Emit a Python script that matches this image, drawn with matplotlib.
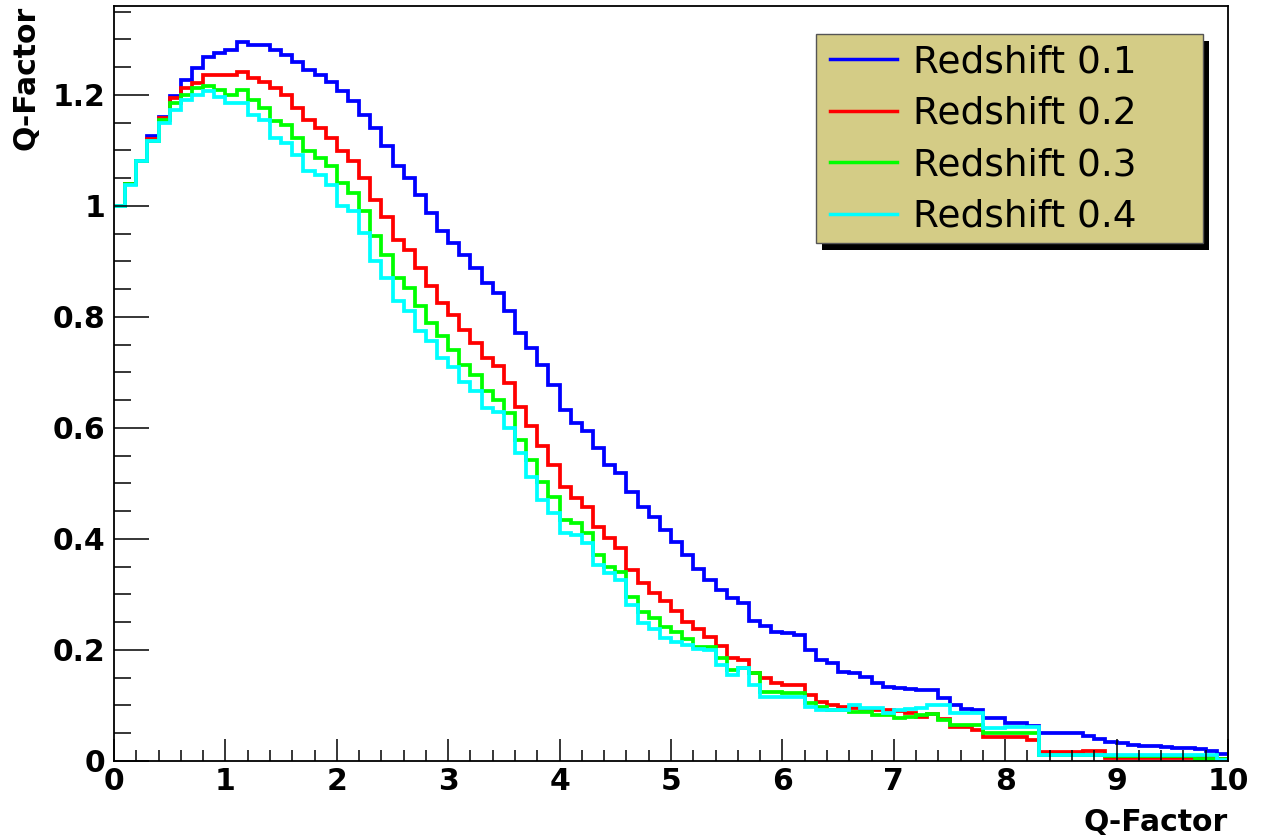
import numpy as np
import matplotlib
matplotlib.use("Agg")
import matplotlib.pyplot as plt
from matplotlib.patches import Rectangle
from matplotlib.ticker import MultipleLocator, FuncFormatter

# ---- data: 100 bins from 0 to 10 ----
labels = ['Redshift 0.1', 'Redshift 0.2', 'Redshift 0.3', 'Redshift 0.4']
colors = ['#0000ff', '#ff0000', '#00ff00', '#00ffff']
bin_edges = np.linspace(0, 10, 101)

z01 = [1.000, 1.040, 1.080, 1.125, 1.160, 1.197, 1.227, 1.248, 1.269, 1.275,
       1.281, 1.296, 1.290, 1.289, 1.281, 1.272, 1.260, 1.245, 1.236, 1.224,
       1.206, 1.188, 1.164, 1.140, 1.107, 1.071, 1.050, 1.020, 0.987, 0.954,
       0.933, 0.912, 0.888, 0.861, 0.843, 0.810, 0.771, 0.744, 0.714, 0.677,
       0.633, 0.608, 0.595, 0.564, 0.533, 0.518, 0.485, 0.458, 0.440, 0.417,
       0.395, 0.371, 0.346, 0.326, 0.308, 0.293, 0.284, 0.252, 0.243, 0.233,
       0.230, 0.227, 0.200, 0.182, 0.176, 0.161, 0.158, 0.152, 0.140, 0.133,
       0.131, 0.130, 0.128, 0.127, 0.113, 0.101, 0.094, 0.092, 0.078, 0.077,
       0.068, 0.068, 0.063, 0.050, 0.050, 0.050, 0.050, 0.045, 0.039, 0.034,
       0.033, 0.029, 0.027, 0.027, 0.026, 0.023, 0.023, 0.022, 0.018, 0.012]

z02 = [1.000, 1.040, 1.080, 1.120, 1.158, 1.195, 1.212, 1.221, 1.236, 1.236,
       1.236, 1.242, 1.230, 1.224, 1.212, 1.200, 1.176, 1.155, 1.140, 1.122,
       1.098, 1.080, 1.050, 1.011, 0.980, 0.939, 0.921, 0.888, 0.855, 0.825,
       0.804, 0.777, 0.753, 0.726, 0.711, 0.681, 0.637, 0.603, 0.567, 0.533,
       0.494, 0.473, 0.458, 0.422, 0.401, 0.383, 0.344, 0.320, 0.302, 0.289,
       0.271, 0.251, 0.238, 0.223, 0.207, 0.185, 0.182, 0.158, 0.149, 0.140,
       0.137, 0.137, 0.119, 0.107, 0.101, 0.098, 0.096, 0.094, 0.092, 0.091,
       0.090, 0.087, 0.080, 0.085, 0.075, 0.061, 0.061, 0.056, 0.043, 0.043,
       0.043, 0.043, 0.038, 0.017, 0.017, 0.017, 0.017, 0.018, 0.018, 0.006,
       0.006, 0.005, 0.005, 0.005, 0.005, 0.005, 0.005, 0.005, 0.009, 0.003]

z03 = [1.000, 1.040, 1.080, 1.116, 1.155, 1.185, 1.200, 1.212, 1.215, 1.209,
       1.200, 1.209, 1.191, 1.176, 1.152, 1.146, 1.122, 1.098, 1.086, 1.071,
       1.041, 1.023, 0.990, 0.945, 0.912, 0.870, 0.852, 0.819, 0.789, 0.765,
       0.741, 0.714, 0.695, 0.666, 0.651, 0.626, 0.579, 0.542, 0.503, 0.476,
       0.434, 0.428, 0.410, 0.371, 0.350, 0.341, 0.296, 0.269, 0.257, 0.242,
       0.232, 0.220, 0.206, 0.206, 0.185, 0.164, 0.167, 0.158, 0.125, 0.125,
       0.122, 0.122, 0.104, 0.098, 0.092, 0.092, 0.089, 0.089, 0.083, 0.083,
       0.078, 0.080, 0.082, 0.085, 0.074, 0.065, 0.065, 0.065, 0.050, 0.050,
       0.050, 0.050, 0.050, 0.010, 0.010, 0.010, 0.010, 0.010, 0.010, 0.009,
       0.009, 0.009, 0.009, 0.009, 0.009, 0.009, 0.009, 0.004, 0.004, 0.004]

z04 = [1.000, 1.038, 1.080, 1.116, 1.149, 1.173, 1.191, 1.200, 1.206, 1.196,
       1.185, 1.185, 1.164, 1.155, 1.122, 1.113, 1.092, 1.062, 1.056, 1.038,
       1.000, 0.990, 0.952, 0.900, 0.870, 0.828, 0.810, 0.774, 0.756, 0.726,
       0.709, 0.682, 0.666, 0.636, 0.628, 0.600, 0.554, 0.512, 0.470, 0.446,
       0.410, 0.407, 0.392, 0.353, 0.338, 0.326, 0.281, 0.248, 0.237, 0.222,
       0.215, 0.209, 0.201, 0.200, 0.173, 0.155, 0.167, 0.137, 0.116, 0.116,
       0.116, 0.116, 0.098, 0.092, 0.092, 0.092, 0.101, 0.095, 0.095, 0.086,
       0.092, 0.094, 0.096, 0.101, 0.101, 0.086, 0.086, 0.086, 0.060, 0.060,
       0.061, 0.061, 0.061, 0.011, 0.011, 0.011, 0.011, 0.011, 0.011, 0.011,
       0.011, 0.011, 0.011, 0.011, 0.011, 0.011, 0.011, 0.011, 0.011, 0.002]

series = [z01, z02, z03, z04]

# ---- figure ----
W, H = 1265, 840
fig = plt.figure(figsize=(W / 100, H / 100), dpi=100)
ax = fig.add_axes([114 / W, 1 - 761 / H, 1114 / W, 755 / H])

for vals, col, lab in zip(series, colors, labels):
    ax.stairs(vals, bin_edges, baseline=None, color=col, lw=2.7, label=lab)

ax.set_xlim(0, 10)
ax.set_ylim(0, 1.36)

ax.xaxis.set_major_locator(MultipleLocator(1))
ax.xaxis.set_minor_locator(MultipleLocator(0.2))
ax.yaxis.set_major_locator(MultipleLocator(0.2))
ax.yaxis.set_minor_locator(MultipleLocator(0.05))
ax.yaxis.set_major_formatter(FuncFormatter(lambda v, p: '%g' % round(v, 2)))

ax.tick_params(axis='x', which='major', direction='in', length=16, width=1.1, pad=4,
               labelsize=21.5, top=False)
ax.tick_params(axis='x', which='minor', direction='in', length=8, width=1.1, top=False)
ax.tick_params(axis='y', which='major', direction='in', length=25, width=1.1, pad=6,
               labelsize=21.5, right=False)
ax.tick_params(axis='y', which='minor', direction='in', length=12.5, width=1.1, right=False)
for lbl in ax.get_xticklabels() + ax.get_yticklabels():
    lbl.set_fontweight('bold')

for sp in ax.spines.values():
    sp.set_linewidth(1.3)

ax.set_xlabel('Q-Factor', fontsize=21.5, fontweight='bold', loc='right')
ax.xaxis.set_label_coords(1.0, -0.062)
ax.set_ylabel('Q-Factor', fontsize=21.5, fontweight='bold', loc='top')
ax.yaxis.set_label_coords(-0.066, 1.0)

# ---- legend box with ROOT style shadow ----
bx, by, bw, bh = 0.630, 0.686, 0.3475, 0.277
ax.add_patch(Rectangle((bx + 0.0054, by - 0.0093), bw, bh, transform=ax.transAxes,
                       facecolor='black', edgecolor='none', zorder=4, clip_on=False))
ax.add_patch(Rectangle((bx, by), bw, bh, transform=ax.transAxes,
                       facecolor='#d4cc86', edgecolor='#555555', lw=1.0,
                       zorder=4.5, clip_on=False))
leg = ax.legend(loc='upper left', bbox_to_anchor=(0.6427, 0.949), frameon=False,
                borderpad=0, borderaxespad=0, fontsize=27, handlelength=1.8,
                handletextpad=0.42, labelspacing=0.41)
leg.set_zorder(5)
for ln in leg.get_lines():
    ln.set_linewidth(2.5)

fig.savefig('out.png', dpi=100, facecolor='white')
